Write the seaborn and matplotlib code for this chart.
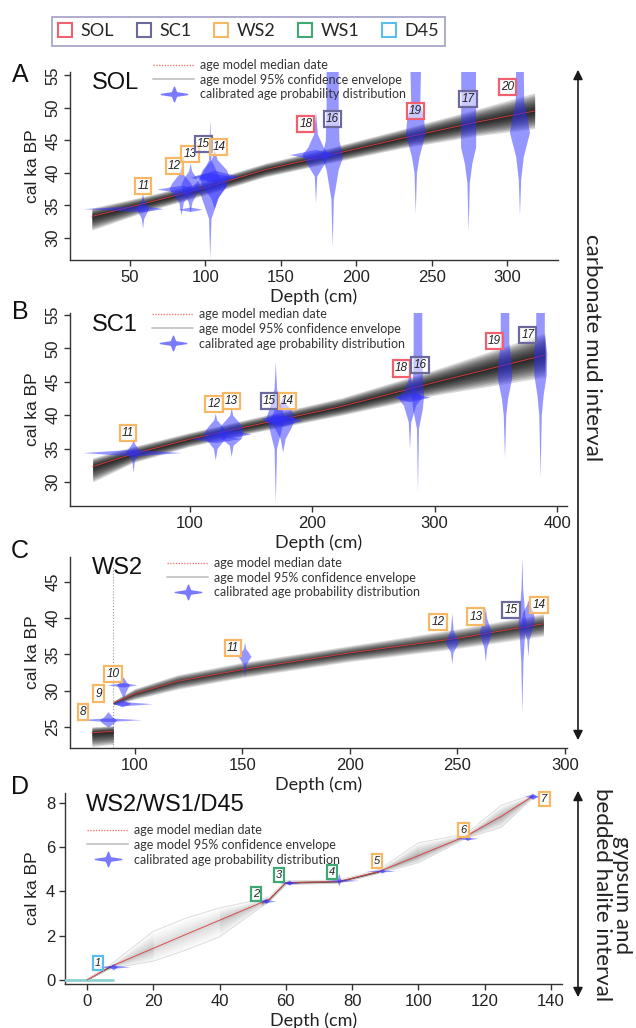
import numpy as np
import matplotlib
matplotlib.use("Agg")
import matplotlib.pyplot as plt
import seaborn as sns
from matplotlib.lines import Line2D
from matplotlib.path import Path
from matplotlib.patches import FancyArrowPatch

sns.set_theme(style="ticks")
plt.rcParams["font.family"] = ["Liberation Sans", "DejaVu Sans"]

# ---------------- data ----------------
CORES = ["SOL", "SC1", "WS2", "WS1", "D45"]
CORE_COLORS = ["#f0606e", "#6c6a9c", "#f7b866", "#3fa874", "#5cbcec"]

# Panel A (SOL)
A_band_depth = [25, 60, 100, 140, 180, 230, 280, 318]
A_band_med = [33.3, 35.3, 37.7, 40.5, 42.6, 45.3, 47.8, 49.5]
A_band_lo = [31.2, 34.0, 36.6, 39.4, 41.4, 43.8, 45.7, 46.8]
A_band_hi = [34.6, 36.4, 38.7, 41.5, 43.7, 46.7, 49.8, 52.3]
A_lab = ["11", "12", "13", "15", "14", "18", "16", "19", "17", "20"]
A_core = ["WS2", "WS2", "WS2", "SC1", "WS2", "SOL", "SC1", "SOL", "SC1", "SOL"]
A_depth = [58.5, 84, 90, 103, 106, 173, 184, 239, 274, 308]
A_v_age = [[31.5, 33.0, 34.0, 34.5, 35.0, 35.8, 36.9],
           [33.5, 35.5, 36.8, 37.6, 38.5, 39.8, 41.0],
           [34.0, 35.5, 37.2, 38.3, 39.3, 40.3, 41.5],
           [26.8, 33.0, 36.5, 38.0, 39.5, 42.0, 48.3],
           [34.5, 36.0, 38.0, 39.3, 40.5, 42.0, 43.5],
           [35.4, 39.5, 41.5, 42.8, 44.0, 46.0, 49.5],
           [28.6, 36.0, 40.5, 42.5, 45.0, 50.0, 57.0],
           [33.8, 40.0, 42.5, 46.0, 48.5, 50.7, 57.0],
           [31.0, 38.5, 41.5, 44.0, 48.0, 52.0, 57.0],
           [33.5, 39.0, 42.5, 46.2, 48.5, 51.0, 57.0]]
A_v_hw = [[0, 0.8, 3, 4, 3, 0.8, 0],
          [0, 1.5, 6, 8, 6, 1.5, 0],
          [0, 1.2, 5, 6, 4, 1.0, 0],
          [0, 0.8, 6, 11, 6, 0.8, 0],
          [0, 2, 8, 10, 8, 2, 0],
          [0, 0.8, 6, 9, 5, 1.2, 0],
          [0, 0.8, 4, 7, 4.5, 4, 4],
          [0, 0.8, 2.5, 6.5, 5.5, 3.0, 3.6],
          [0, 0.8, 2.5, 5, 5, 4.8, 5],
          [0, 0.8, 2.5, 6.6, 5, 2.8, 2.5]]
A_arm_age = [34.5, 37.5, 34.4, 39.3, 39.5, 42.8, np.nan, np.nan, np.nan, np.nan]
A_arm_lo = [19, 68, 82, 90, 92, 156, np.nan, np.nan, np.nan, np.nan]
A_arm_hi = [72, 98, 98, 122, 122, 188, np.nan, np.nan, np.nan, np.nan]
A_arm_hh = [0.5, 0.6, 0.35, 0.7, 0.9, 0.8, np.nan, np.nan, np.nan, np.nan]
A_lab_x = [59, 79.6, 90, 98.7, 109, 166.5, 184, 239, 274, 300]
A_lab_y = [38.0, 41.0, 42.9, 44.4, 44.0, 47.5, 48.3, 49.5, 51.3, 53.2]

# Panel B (SC1)
B_band_depth = [21, 54, 100, 150, 191, 224, 300, 390]
B_band_med = [32.3, 34.2, 36.4, 38.4, 40.0, 41.3, 44.9, 49.0]
B_band_lo = [30.0, 32.9, 35.3, 37.3, 38.8, 40.0, 43.0, 45.7]
B_band_hi = [33.6, 35.3, 37.4, 39.5, 41.2, 42.6, 46.8, 52.3]
B_lab = ["11", "12", "13", "15", "14", "18", "16", "19", "17"]
B_core = ["WS2", "WS2", "WS2", "SC1", "WS2", "SOL", "SC1", "SOL", "SC1"]
B_depth = [54, 121, 134, 170, 176, 279.5, 286, 357, 386]
B_v_age = [[31.4, 33.2, 34.0, 34.5, 35.0, 35.8, 36.7],
           [33.3, 35.0, 36.3, 37.2, 38.3, 39.3, 40.3],
           [33.8, 35.5, 36.5, 37.6, 38.6, 40.0, 41.3],
           [27.0, 35.0, 38.0, 39.5, 41.0, 44.0, 48.0],
           [34.5, 36.5, 38.2, 39.5, 40.8, 41.8, 42.8],
           [35.0, 39.0, 41.5, 42.7, 44.0, 45.5, 47.0],
           [28.5, 38.0, 41.0, 43.0, 46.0, 50.0, 57.0],
           [33.6, 40.0, 42.5, 45.7, 48.5, 51.0, 57.0],
           [30.7, 40.0, 43.0, 46.0, 49.3, 52.0, 57.0]]
B_v_hw = [[0, 1, 4, 6, 4, 1, 0],
          [0, 1.5, 7, 10, 6, 1.2, 0],
          [0, 1.5, 8, 10, 8, 1.2, 0],
          [0, 1, 5, 8, 5, 1, 0],
          [0, 2, 7, 10, 7, 2, 0],
          [0, 1, 5, 10, 4, 1, 0],
          [0, 0.8, 4, 5, 4, 3.5, 3.5],
          [0, 1, 2.5, 6, 5, 3.5, 3.5],
          [0, 1, 2.5, 5, 5.5, 3.5, 3.5]]
B_arm_age = [34.4, 36.5, 37.2, 39.5, 39.2, 42.7, np.nan, np.nan, np.nan]
B_arm_lo = [13, 101, 115, 158, 160, 266, np.nan, np.nan, np.nan]
B_arm_hi = [93, 142, 150, 188, 192, 296, np.nan, np.nan, np.nan]
B_arm_hh = [0.5, 0.6, 0.6, 0.6, 0.8, 0.7, np.nan, np.nan, np.nan]
B_lab_x = [50, 120, 134, 165, 180, 273, 288, 349, 376]
B_lab_y = [37.3, 41.7, 42.1, 42.1, 42.1, 47.0, 47.5, 51.1, 52.0]

# Panel C (WS2)
C_band1_depth = [80, 89.9]
C_band1_med = [24.2, 24.4]
C_band1_lo = [22.3, 22.6]
C_band1_hi = [25.0, 25.2]
C_band2_depth = [90, 100, 120, 150, 200, 250, 290]
C_band2_med = [28.3, 29.6, 31.3, 32.9, 35.2, 37.2, 39.2]
C_band2_lo = [28.0, 28.8, 30.2, 31.8, 34.0, 35.8, 37.5]
C_band2_hi = [28.6, 30.3, 32.2, 33.9, 36.2, 38.5, 40.6]
C_hiatus_depth = 90
C_lab = ["8", "9", "10", "11", "12", "13", "15", "14"]
C_core = ["WS2", "WS2", "WS2", "WS2", "WS2", "WS2", "SC1", "WS2"]
C_depth = [87.5, 94, 94.5, 151, 247.4, 263, 280, 282.8]
C_v_age = [[25.0, 25.6, 26.0, 26.4, 27.1],
           [27.8, 28.1, 28.3, 28.5, 28.8],
           [29.0, 30.3, 30.8, 31.2, 31.9],
           [31.9, 33.5, 34.3, 34.7, 35.2, 35.8, 36.7],
           [33.7, 35.3, 36.2, 36.6, 37.2, 38.4, 40.7],
           [34.0, 35.8, 37.2, 38.0, 38.8, 40.0, 41.5],
           [27.0, 34.0, 37.5, 39.5, 41.0, 44.0, 48.4],
           [34.7, 37.0, 39.0, 39.8, 40.8, 41.8, 42.5]]
C_v_hw = [[0, 3, 4, 2, 0],
          [0, 3, 4, 2, 0],
          [0, 2, 3, 1.5, 0],
          [0, 0.6, 2, 3, 2, 0.5, 0],
          [0, 0.6, 2.3, 3, 2.3, 0.6, 0],
          [0, 0.6, 2, 3, 2, 0.6, 0],
          [0, 0.5, 1.2, 1.8, 1.2, 0.4, 0],
          [0, 0.5, 2.5, 3, 2.5, 0.6, 0]]
C_arm_age = [26.0, 28.2, 30.8, np.nan, np.nan, np.nan, np.nan, np.nan]
C_arm_lo = [73, 90, 87, np.nan, np.nan, np.nan, np.nan, np.nan]
C_arm_hi = [103, 108, 101, np.nan, np.nan, np.nan, np.nan, np.nan]
C_arm_hh = [0.25, 0.3, 0.3, np.nan, np.nan, np.nan, np.nan, np.nan]
C_lab_x = [75.8, 83, 89.8, 145.6, 241, 258.6, 275, 288]
C_lab_y = [27.1, 29.6, 32.3, 35.9, 39.5, 40.2, 41.1, 41.8]

# Panel D (WS2/WS1/D45)
D_band_depth = [0, 7, 20, 30, 40, 52.6, 55, 60, 76, 88, 100, 114.3, 125, 134.4]
D_band_med = [0, 0.6, 1.43, 2.07, 2.7, 3.5, 3.65, 4.4, 4.45, 4.9, 5.62, 6.5, 7.4, 8.3]
D_band_lo = [0, 0.52, 0.85, 1.36, 1.95, 3.3, 3.55, 4.32, 4.38, 4.82, 5.3, 6.4, 6.9, 8.22]
D_band_hi = [0.05, 0.68, 2.2, 2.8, 3.26, 3.65, 3.75, 4.48, 4.52, 4.98, 6.2, 6.6, 7.9, 8.38]
D_lab = ["1", "2", "3", "4", "5", "6", "7"]
D_core = ["D45", "WS1", "WS1", "WS1", "WS2", "WS2", "WS2"]
D_depth = [8, 54, 61, 76, 89, 114.8, 134.4]
D_v_age = [[0.45, 0.6, 0.75], [3.45, 3.57, 3.7], [4.28, 4.4, 4.52], [4.25, 4.5, 4.84],
           [4.83, 4.93, 5.03], [6.3, 6.4, 6.5], [8.15, 8.3, 8.45]]
D_v_hw = [[0, 1.2, 0], [0, 1, 0], [0, 1, 0], [0, 0.6, 0], [0, 1, 0], [0, 1, 0], [0, 1.2, 0]]
D_arm_age = [0.6, 3.57, 4.4, 4.5, 4.93, 6.4, 8.3]
D_arm_lo = [3, 50, 58, 72, 84, 111, 132]
D_arm_hi = [13, 57, 64, 82, 93, 118, 137]
D_arm_hh = [0.07, 0.07, 0.07, 0.06, 0.05, 0.06, 0.09]
D_lab_x = [3.4, 51, 58, 74, 87.6, 113.6, 138]
D_lab_y = [0.77, 3.9, 4.75, 4.9, 5.4, 6.8, 8.2]
D_coretop_age = [0, 0]
D_coretop_depth = [-6.5, 8]

# ---------------- drawing ----------------
W, H = 636, 1028
fig = plt.figure(figsize=(W / 100, H / 100), dpi=100)
VCOL = "#2f2fff"
color_of = dict(zip(CORES, CORE_COLORS))


def fx(px):
    return px / W


def fy(py):
    return 1 - py / H


def axes_px(l, t, r, b):
    return fig.add_axes([l / W, 1 - b / H, (r - l) / W, (b - t) / H])


def draw_band(ax, d, med, lo, hi, layers=14, alpha=0.17, scale=None, outline=None):
    d, med, lo, hi = map(np.asarray, (d, med, lo, hi))
    fracs = [((layers - k) / layers) ** 1.4 for k in range(layers)]
    if scale is None:
        for f in fracs:
            ax.fill_between(d, med - f * (med - lo), med + f * (hi - med),
                            color="k", alpha=alpha, lw=0, zorder=2)
    else:
        for i in range(len(d) - 1):
            s = slice(i, i + 2)
            hw = np.mean(hi[s] - lo[s]) / 2
            a = float(np.clip(scale / max(hw, 1e-3), 0.008, 0.17))
            for f in fracs:
                ax.fill_between(d[s], med[s] - f * (med[s] - lo[s]), med[s] + f * (hi[s] - med[s]),
                                color="k", alpha=a, lw=0, zorder=2)
    if outline:
        ax.plot(d, lo, color=outline, lw=0.6, zorder=2)
        ax.plot(d, hi, color=outline, lw=0.6, zorder=2)
    sns.lineplot(x=d, y=med, ax=ax, color="#e23a3a", lw=0.6, estimator=None,
                 sort=False, legend=False, zorder=3)


def draw_dates(ax, depth, v_age, v_hw, arm_age, arm_lo, arm_hi, arm_hh,
               lab, core, lab_x, lab_y, fs=8.5):
    for i, d in enumerate(depth):
        ages = np.asarray(v_age[i])
        hw = np.asarray(v_hw[i])
        ax.fill_betweenx(ages, d - hw, d + hw, color=VCOL, alpha=0.5, lw=0, zorder=4)
        if not np.isnan(arm_age[i]):
            a, lo, hi, hh = arm_age[i], arm_lo[i], arm_hi[i], arm_hh[i]
            ax.fill_between([lo, d, hi], [a, a - hh, a], [a, a + hh, a],
                            color=VCOL, alpha=0.5, lw=0, zorder=4)
    for t, c, x, y in zip(lab, core, lab_x, lab_y):
        ax.text(x, y, t, ha="center", va="center", fontsize=fs, style="italic",
                color="#222222", zorder=10,
                bbox=dict(boxstyle="square,pad=0.18", fc=(1, 1, 1, 0.5),
                          ec=color_of[c], lw=1.6))


STAR = Path([(-1, 0), (-0.16, 0.13), (0, 0.55), (0.16, 0.13), (1, 0), (0.16, -0.13),
             (0, -0.55), (-0.16, -0.13), (-1, 0)],
            [Path.MOVETO] + [Path.LINETO] * 7 + [Path.CLOSEPOLY])


def panel_legend(ax, x_px, y_px):
    handles = [Line2D([], [], color="#f07a7a", lw=1.0, ls=(0, (1, 1))),
               Line2D([], [], color="#c4c4c4", lw=1.3),
               Line2D([], [], color="#7a7aff", marker=STAR, markersize=19, ls="none")]
    labels = ["age model median date", "age model 95% confidence envelope",
              "calibrated age probability distribution"]
    leg = ax.legend(handles, labels, loc="upper left", bbox_to_anchor=(fx(x_px), fy(y_px)),
                    bbox_transform=fig.transFigure, frameon=False, borderpad=0,
                    borderaxespad=0, handlelength=3.3, handletextpad=0.45,
                    labelspacing=0.22, prop={"family": "Lato", "size": 9})
    for t in leg.get_texts():
        t.set_color("#333333")
    leg.set_zorder(12)


def style_axes(ax, xlim, ylim, xticks, yticks, rotate_y=True):
    ax.set_xlim(*xlim)
    ax.set_ylim(*ylim)
    ax.set_xticks(xticks)
    ax.set_yticks(yticks)
    sns.despine(ax=ax)
    for s in ("left", "bottom"):
        ax.spines[s].set_linewidth(1.0)
        ax.spines[s].set_color("#333333")
    ax.tick_params(direction="out", length=4, width=1, labelsize=12, pad=3,
                   colors="#333333", labelcolor="#222222")
    if rotate_y:
        plt.setp(ax.get_yticklabels(), rotation=90, va="center")
    ax.set_xlabel("Depth (cm)", fontsize=13, family="Lato", labelpad=3, color="#222222")
    ax.set_ylabel("cal ka BP", fontsize=12.5, labelpad=4, color="#222222")
    ax.set_facecolor("none")


axA = axes_px(70, 72, 558, 260)
axB = axes_px(70, 313, 567, 506)
axC = axes_px(70, 557, 567, 748)
axD = axes_px(65, 793, 562, 984)

# A
draw_band(axA, A_band_depth, A_band_med, A_band_lo, A_band_hi)
draw_dates(axA, A_depth, A_v_age, A_v_hw, A_arm_age, A_arm_lo, A_arm_hi, A_arm_hh,
           A_lab, A_core, A_lab_x, A_lab_y)
style_axes(axA, (10.5, 333.5), (26.6, 55.5), [50, 100, 150, 200, 250, 300], [30, 35, 40, 45, 50, 55])
panel_legend(axA, 153, 59)

# B
draw_band(axB, B_band_depth, B_band_med, B_band_lo, B_band_hi)
draw_dates(axB, B_depth, B_v_age, B_v_hw, B_arm_age, B_arm_lo, B_arm_hi, B_arm_hh,
           B_lab, B_core, B_lab_x, B_lab_y)
style_axes(axB, (2.5, 408), (26.4, 55.3), [100, 200, 300, 400], [30, 35, 40, 45, 50, 55])
panel_legend(axB, 152, 308)

# C
axC.axvline(C_hiatus_depth, ymin=0, ymax=0.95, color="#9a9a9a", ls=":", lw=0.8, zorder=1)
draw_band(axC, C_band1_depth, C_band1_med, C_band1_lo, C_band1_hi)
draw_band(axC, C_band2_depth, C_band2_med, C_band2_lo, C_band2_hi, alpha=0.13)
draw_dates(axC, C_depth, C_v_age, C_v_hw, C_arm_age, C_arm_lo, C_arm_hi, C_arm_hh,
           C_lab, C_core, C_lab_x, C_lab_y)
style_axes(axC, (69.8, 301), (22.1, 48.4), [100, 150, 200, 250, 300], [25, 30, 35, 40, 45])
panel_legend(axC, 167, 557)

# D
axD.plot(D_coretop_depth, D_coretop_age, color="#8fd0d0", lw=2, zorder=3)
draw_band(axD, D_band_depth, D_band_med, D_band_lo, D_band_hi, scale=0.008, outline="#d8d8d8")
draw_dates(axD, D_depth, D_v_age, D_v_hw, D_arm_age, D_arm_lo, D_arm_hi, D_arm_hh,
           D_lab, D_core, D_lab_x, D_lab_y, fs=8)
style_axes(axD, (-6.6, 143.3), (-0.18, 8.45), list(range(0, 141, 20)), [0, 2, 4, 6, 8], rotate_y=False)
panel_legend(axD, 87, 824)

# titles & panel letters
for txt, x, y in [("SOL", 92, 83), ("SC1", 92, 325), ("WS2", 92, 568), ("WS2/WS1/D45", 86, 805)]:
    fig.text(fx(x), fy(y), txt, ha="left", va="center", fontsize=17, color="#111111")
for txt, y in [("A", 75), ("B", 312), ("C", 551), ("D", 787)]:
    fig.text(fx(20), fy(y), txt, ha="center", va="center", fontsize=18, color="#111111")

# top legend
core_handles = [Line2D([], [], marker="s", ls="none", markersize=10, markerfacecolor="none",
                       markeredgecolor=c, markeredgewidth=1.5) for c in CORE_COLORS]
top = fig.legend(core_handles, CORES, loc="center", bbox_to_anchor=(fx(248.5), fy(31.5)),
                 ncol=5, frameon=True, fancybox=False, handlelength=0.8, handletextpad=0.45,
                 columnspacing=1.25, borderpad=0.35, borderaxespad=0,
                 prop={"family": "Lato", "size": 13})
top.get_frame().set_edgecolor("#8886b8")
top.get_frame().set_linewidth(1.2)

# interval arrows and labels
for y1, y2 in [(67, 743), (788, 1000)]:
    fig.add_artist(FancyArrowPatch((fx(578), fy(y1)), (fx(578), fy(y2)), transform=fig.transFigure,
                                   arrowstyle="<|-|>", mutation_scale=14, lw=1.2, color="#1a1a1a"))
fig.text(fx(592), fy(348), "carbonate mud interval", rotation=-90, ha="center", va="center",
         fontsize=16, family="Lato", color="#222222")
fig.text(fx(612), fy(895), "gypsum and\nbedded halite interval", rotation=-90, ha="center",
         va="center", multialignment="center", linespacing=1.0, fontsize=16, family="Lato",
         color="#222222")

fig.savefig("out.png", dpi=100)
